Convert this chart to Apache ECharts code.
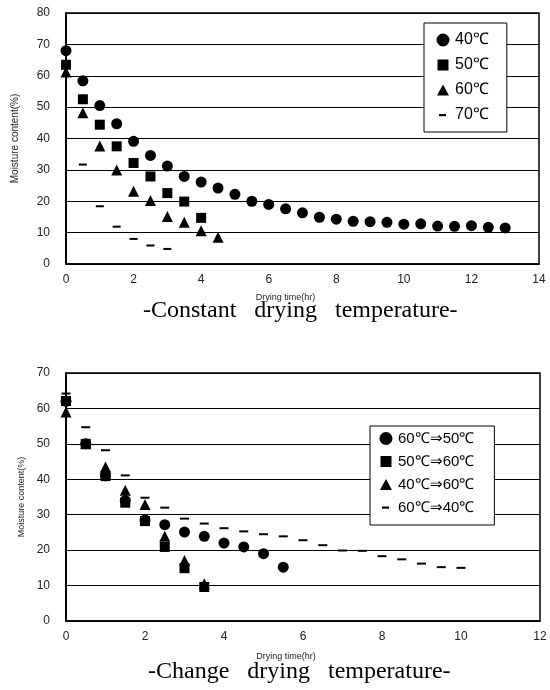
<!DOCTYPE html>
<html>
<head>
<meta charset="utf-8">
<script src="https://cdn.jsdelivr.net/npm/echarts@6/dist/echarts.min.js"></script>
<style>
  html, body { margin: 0; padding: 0; background: #fff; }
  #chart { width: 550px; height: 690px; }
</style>
</head>
<body>
<div id="chart"></div>
<script>
// constant drying temperature (top panel)
var constTimes = [0, 0.5, 1, 1.5, 2, 2.5, 3, 3.5, 4, 4.5, 5, 5.5, 6, 6.5, 7, 7.5, 8, 8.5, 9, 9.5, 10, 10.5, 11, 11.5, 12, 12.5, 13];
var mc40 = [68, 58.4, 50.5, 44.7, 39.1, 34.6, 31.2, 27.9, 26.1, 24.2, 22.2, 20.0, 19.0, 17.6, 16.3, 14.9, 14.3, 13.6, 13.5, 13.3, 12.7, 12.8, 12.1, 12.0, 12.2, 11.7, 11.5];
var mc50 = [63.5, 52.5, 44.4, 37.5, 32.2, 27.9, 22.6, 19.9, 14.7];
var mc60 = [61.2, 48.2, 37.6, 30.0, 23.2, 20.2, 15.1, 13.3, 10.6, 8.5];
var times70 = [0.5, 1, 1.5, 2, 2.5, 3];
var mc70 = [31.7, 18.4, 11.9, 8.0, 5.9, 4.8];
var constNames = ['40℃', '50℃', '60℃', '70℃'];

// changed drying temperature (bottom panel)
var changeTimes = [0, 0.5, 1, 1.5, 2, 2.5, 3, 3.5, 4, 4.5, 5, 5.5, 6, 6.5, 7, 7.5, 8, 8.5, 9, 9.5, 10];
var mc6050 = [62, 50, 41, 34, 28.5, 27.2, 25.1, 23.9, 22.0, 20.9, 19.0, 15.2];
var mc5060 = [62.1, 50.0, 40.9, 33.4, 28.2, 20.9, 14.9, 9.6];
var mc4060 = [59, 50, 43.5, 36.9, 32.9, 23.9, 17.1, 10.5];
var mc6040 = [64.2, 54.7, 48.2, 41.1, 34.8, 32.0, 28.9, 27.5, 26.2, 25.3, 24.5, 23.9, 22.8, 21.4, 19.9, 19.8, 18.3, 17.4, 16.2, 15.2, 15.0];
var changeNames = ['60℃⇒50℃', '50℃⇒60℃', '40℃⇒60℃', '60℃⇒40℃'];

var xTicksTop = { min: 0, max: 14, interval: 2 };
var yTicksTop = { min: 0, max: 80, interval: 10 };
var xTicksBottom = { min: 0, max: 12, interval: 2 };
var yTicksBottom = { min: 0, max: 70, interval: 10 };

function pairs(t, v) {
  return v.map(function (y, i) { return [t[i], y]; });
}

// legend icons, extra move-to points keep the box 14x14 so the mark keeps its size
var iconCircle = 'path://M0,0 M14,14 M7,0.5 A6.5,6.5 0 1 1 6.99,0.5 Z';
var iconSquare = 'path://M0,0 M14,14 M1.5,1.5 H12.5 V12.5 H1.5 Z';
var iconTriangle = 'path://M0,0 M14,14 M7,1.5 L13,12.5 L1,12.5 Z';
var iconDash = 'path://M0,0 M14,14 M3,6 H10 V8.2 H3 Z';

var font = 'Liberation Sans, Arial, sans-serif';
var captionFont = '24px "Liberation Serif", "DejaVu Serif", serif';

function xAxisOf(grid, ticks, gap) {
  return {
    gridIndex: grid, type: 'value', min: ticks.min, max: ticks.max, interval: ticks.interval,
    axisLine: { show: true, lineStyle: { color: '#000', width: 1.5 } },
    axisTick: { show: false },
    splitLine: { show: false },
    axisLabel: { color: '#222', fontSize: 12, margin: 10, fontFamily: font },
    name: 'Drying time(hr)', nameLocation: 'middle', nameGap: gap,
    nameTextStyle: { fontSize: 9, color: '#222', fontFamily: font, padding: [0, 34, 0, 0] }
  };
}

function yAxisOf(grid, ticks, gap, size) {
  return {
    gridIndex: grid, type: 'value', min: ticks.min, max: ticks.max, interval: ticks.interval,
    axisLine: { show: true, lineStyle: { color: '#000', width: 2 } },
    axisTick: { show: false },
    splitLine: { show: true, lineStyle: { color: '#000', width: 1.2 } },
    axisLabel: { color: '#222', fontSize: 12, margin: 16, fontFamily: font },
    name: 'Moisture content(%)', nameLocation: 'middle', nameGap: gap,
    nameTextStyle: { fontSize: size, color: '#222', fontFamily: font }
  };
}

function dots(name, t, v, symbol, size, xi) {
  return {
    name: name, type: 'scatter', xAxisIndex: xi, yAxisIndex: xi,
    symbol: symbol, symbolSize: size,
    itemStyle: { color: '#000', opacity: 1 },
    data: pairs(t, v)
  };
}

var chart = echarts.init(document.getElementById('chart'), null, { renderer: 'canvas' });

chart.setOption({
  backgroundColor: '#fff',
  animation: false,
  grid: [
    { left: 66, right: 11, top: 13, bottom: 426, show: true, borderColor: '#000', borderWidth: 1.5 },
    { left: 66, right: 10, top: 373, bottom: 69, show: true, borderColor: '#000', borderWidth: 1.5 }
  ],
  xAxis: [xAxisOf(0, xTicksTop, 29), xAxisOf(1, xTicksBottom, 31)],
  yAxis: [yAxisOf(0, yTicksTop, 46, 10), yAxisOf(1, yTicksBottom, 33, 9)],
  legend: [
    {
      orient: 'vertical', left: 424, top: 23,
      padding: [9, 18, 9, 12], itemGap: 9, itemWidth: 14, itemHeight: 14,
      backgroundColor: '#fff', borderColor: '#000', borderWidth: 1,
      textStyle: { fontSize: 16, color: '#000', fontFamily: font },
      data: [
        { name: constNames[0], icon: iconCircle },
        { name: constNames[1], icon: iconSquare },
        { name: constNames[2], icon: iconTriangle },
        { name: constNames[3], icon: iconDash }
      ]
    },
    {
      orient: 'vertical', left: 370, top: 426,
      padding: [5, 20, 10, 9], itemGap: 8, itemWidth: 14, itemHeight: 14,
      backgroundColor: '#fff', borderColor: '#000', borderWidth: 1,
      textStyle: { fontSize: 15, color: '#000', fontFamily: font },
      data: [
        { name: changeNames[0], icon: iconCircle },
        { name: changeNames[1], icon: iconSquare },
        { name: changeNames[2], icon: iconTriangle },
        { name: changeNames[3], icon: iconDash }
      ]
    }
  ],
  graphic: [
    {
      type: 'text', left: 143, top: 299, z: 10,
      style: { text: '-Constant   drying   temperature-', fill: '#000', font: captionFont }
    },
    {
      type: 'text', left: 148, top: 660, z: 10,
      style: { text: '-Change   drying   temperature-', fill: '#000', font: captionFont }
    }
  ],
  series: [
    dots(constNames[0], constTimes, mc40, 'circle', 11, 0),
    dots(constNames[1], constTimes, mc50, 'rect', 10, 0),
    dots(constNames[2], constTimes, mc60, 'triangle', 11, 0),
    dots(constNames[3], times70, mc70, 'rect', [8, 2], 0),
    dots(changeNames[0], changeTimes, mc6050, 'circle', 11, 1),
    dots(changeNames[2], changeTimes, mc4060, 'triangle', 11, 1),
    dots(changeNames[1], changeTimes, mc5060, 'rect', 10, 1),
    dots(changeNames[3], changeTimes, mc6040, 'rect', [9, 2], 1)
  ]
});
</script>
</body>
</html>
